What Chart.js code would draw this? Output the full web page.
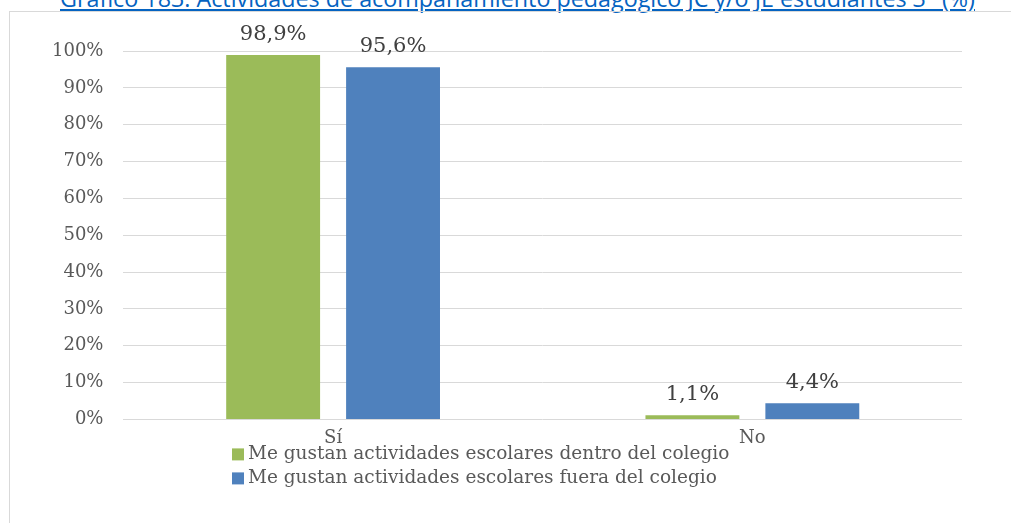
<!DOCTYPE html>
<html>
<head>
<meta charset="utf-8">
<script src="https://cdn.jsdelivr.net/npm/chart.js@4/dist/chart.umd.min.js"></script>
<style>
    html, body { margin: 0; padding: 0; background: #fff; }
    #wrap { position: relative; width: 1011px; height: 523px; overflow: hidden; }
    #title {
        position: absolute; left: 60px; top: -18px; white-space: nowrap;
        font-family: "Open Sans", "Noto Sans", sans-serif; font-size: 23.3px;
        color: #0563C1; text-decoration: underline;
    }
    #frame {
        position: absolute; left: 9px; top: 11px; right: -2px; bottom: -2px;
        border: 1px solid #d9d9d9;
    }
    canvas { position: absolute; left: 0; top: 0; }
</style>
</head>
<body>
<div id="wrap">
    <div id="title">Gráfico 183: Actividades de acompañamiento pedagógico JC y/o JE estudiantes 3° (%)</div>
    <div id="frame"></div>
    <canvas id="chart" width="1011" height="523"></canvas>
</div>
<script>
const categories = ['Sí', 'No'];
const dentroValues = [98.9, 1.1];
const fueraValues = [95.6, 4.4];
const seriesLabels = [
    'Me gustan actividades escolares dentro del colegio',
    'Me gustan actividades escolares fuera del colegio'
];
const yTicks = [0, 10, 20, 30, 40, 50, 60, 70, 80, 90, 100];

const SERIF = '"DejaVu Serif", serif';

// value labels above bars
const valueLabels = {
    id: 'valueLabels',
    afterDatasetsDraw(chart) {
        const ctx = chart.ctx;
        ctx.save();
        ctx.font = '21px ' + SERIF;
        ctx.fillStyle = '#404040';
        ctx.textAlign = 'center';
        ctx.textBaseline = 'alphabetic';
        chart.data.datasets.forEach((ds, i) => {
            chart.getDatasetMeta(i).data.forEach((bar, j) => {
                const txt = ds.data[j].toFixed(1).replace('.', ',') + '%';
                ctx.fillText(txt, bar.x, bar.y - 15);
            });
        });
        ctx.restore();
    }
};

// stacked legend, left aligned like the original
const stackedLegend = {
    id: 'stackedLegend',
    afterDraw(chart) {
        const ctx = chart.ctx;
        const x = 232;
        let y = chart.chartArea.bottom + 35;
        ctx.save();
        ctx.font = '18.5px ' + SERIF;
        ctx.textBaseline = 'middle';
        ctx.textAlign = 'left';
        chart.data.datasets.forEach(ds => {
            ctx.fillStyle = ds.backgroundColor;
            ctx.fillRect(x, y - 6, 12, 12);
            ctx.fillStyle = '#595959';
            ctx.fillText(ds.label, x + 16, y);
            y += 24;
        });
        ctx.restore();
    }
};

new Chart(document.getElementById('chart'), {
    type: 'bar',
    data: {
        labels: categories,
        datasets: [
            { label: seriesLabels[0], data: dentroValues, backgroundColor: '#9BBB59' },
            { label: seriesLabels[1], data: fueraValues, backgroundColor: '#4F81BD' }
        ]
    },
    options: {
        responsive: false,
        animation: false,
        devicePixelRatio: 1,
        categoryPercentage: 0.572,
        barPercentage: 0.783,
        layout: { padding: { left: 32, right: 49, top: 51, bottom: 74 } },
        plugins: {
            legend: { display: false },
            tooltip: { enabled: false }
        },
        scales: {
            x: {
                grid: { display: false },
                border: { display: false },
                ticks: { color: '#595959', font: { family: SERIF, size: 18 }, padding: 0 }
            },
            y: {
                min: 0,
                max: 100,
                afterBuildTicks: axis => { axis.ticks = yTicks.map(v => ({ value: v })); },
                grid: { color: '#d9d9d9', lineWidth: 1, drawTicks: false },
                border: { display: false },
                ticks: {
                    color: '#595959',
                    font: { family: SERIF, size: 18 },
                    padding: 20,
                    callback: v => v + '%'
                }
            }
        }
    },
    plugins: [valueLabels, stackedLegend]
});
</script>
</body>
</html>
